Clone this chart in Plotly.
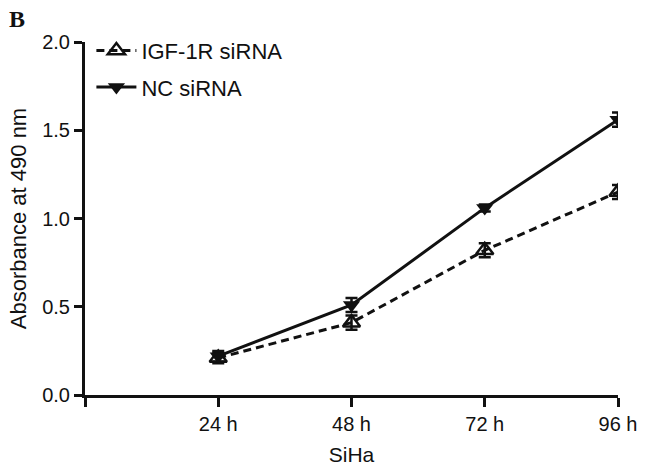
import plotly.graph_objects as go

# ~~~~~~~~~~~~ Data ~~~~~~~~~~~~
time_labels = ["24 h", "48 h", "72 h", "96 h"]
time_pos = [1, 2, 3, 4]

igf_mean = [0.21, 0.41, 0.82, 1.15]
igf_err = [0.03, 0.04, 0.04, 0.04]

nc_mean = [0.22, 0.51, 1.06, 1.56]
nc_err = [0.03, 0.04, 0.02, 0.04]

FONT = "Liberation Sans, Arial, sans-serif"
BLACK = "#111111"

fig = go.Figure()

fig.add_trace(
    go.Scatter(
        x=time_pos,
        y=igf_mean,
        name="IGF-1R siRNA",
        legendgroup="igf",
        mode="lines+markers",
        line=dict(color=BLACK, width=3, dash="8px,5px"),
        marker=dict(
            symbol="triangle-up-open",
            size=15,
            color=BLACK,
            line=dict(color=BLACK, width=2.5),
        ),
        error_y=dict(
            type="data", array=igf_err, color=BLACK, thickness=2.5, width=6
        ),
    )
)

fig.add_trace(
    go.Scatter(
        x=time_pos,
        y=nc_mean,
        name="NC siRNA",
        legendgroup="nc",
        mode="lines+markers",
        line=dict(color=BLACK, width=3),
        marker=dict(symbol="triangle-down", size=15, color=BLACK),
        error_y=dict(
            type="data", array=nc_err, color=BLACK, thickness=2.5, width=6
        ),
    )
)

# panel letter
fig.add_annotation(
    text="<b>B</b>",
    xref="paper",
    yref="paper",
    x=-0.146,
    y=1.065,
    xanchor="left",
    yanchor="middle",
    showarrow=False,
    font=dict(family="Liberation Serif, Times New Roman, serif", size=24, color=BLACK),
)

fig.update_layout(
    width=647,
    height=469,
    margin={"l": 85, "r": 29, "t": 42, "b": 74},
    paper_bgcolor="white",
    plot_bgcolor="white",
    font=dict(family=FONT, size=20, color=BLACK),
    showlegend=True,
    legend=dict(
        x=0.012,
        y=1.035,
        xanchor="left",
        yanchor="top",
        bgcolor="rgba(0,0,0,0)",
        font=dict(family=FONT, size=22, color=BLACK),
        traceorder="grouped",
        tracegroupgap=5,
        itemwidth=40,
    ),
)

fig.update_xaxes(
    range=[0, 4],
    tickvals=[0] + time_pos,
    ticktext=[""] + time_labels,
    showline=True,
    linecolor=BLACK,
    linewidth=3,
    ticks="outside",
    ticklen=9,
    tickwidth=3,
    tickcolor=BLACK,
    showgrid=False,
    zeroline=False,
    tickfont=dict(family=FONT, size=20, color=BLACK),
    title=dict(text="SiHa", font=dict(family=FONT, size=21, color=BLACK), standoff=14),
    automargin=False,
)

fig.update_yaxes(
    range=[0, 2.0],
    tickvals=[0, 0.5, 1.0, 1.5, 2.0],
    tickformat=".1f",
    showline=True,
    linecolor=BLACK,
    linewidth=3,
    ticks="outside",
    ticklen=8,
    tickwidth=3,
    tickcolor=BLACK,
    showgrid=False,
    zeroline=False,
    tickfont=dict(family=FONT, size=20, color=BLACK),
    title=dict(
        text="Absorbance at 490 nm",
        font=dict(family=FONT, size=22, color=BLACK),
        standoff=10,
    ),
    automargin=False,
)

# page body has a default 8px margin; drop it so the chart sits at the window origin
fig.write_html(
    "out.html",
    config={"displayModeBar": False},
    post_script="document.body.style.margin='0';",
)
